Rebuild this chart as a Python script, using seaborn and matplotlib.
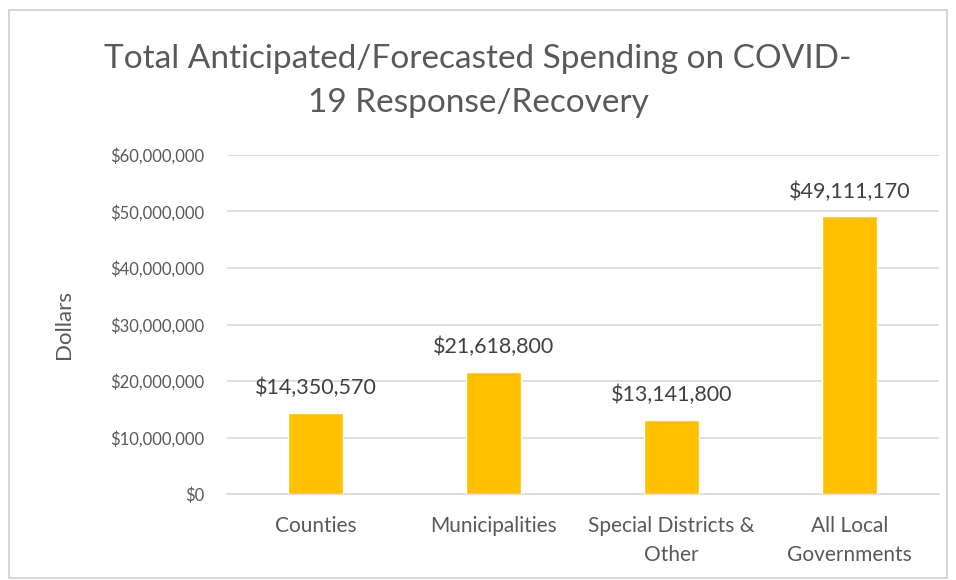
import numpy as np
import pandas as pd
import matplotlib
matplotlib.use("Agg")
import matplotlib.pyplot as plt
import seaborn as sns
from matplotlib.patches import Rectangle
from matplotlib.ticker import FuncFormatter, MultipleLocator

# Data
categories = ["Counties", "Municipalities", "Special Districts &\nOther", "All Local\nGovernments"]
spending = [14350570, 21618800, 13141800, 49111170]

data = pd.DataFrame({"category": categories, "spending": spending})

sns.set_theme(style="white")
plt.rcParams["font.family"] = ["Lato", "DejaVu Sans"]

text_color = "#595959"

fig = plt.figure(figsize=(9.56, 5.8), dpi=100)
ax = fig.add_axes([0.237, 0.148, 0.745, 0.585])

sns.barplot(data=data, x="category", y="spending", color="#FFC000",
            width=0.31, saturation=1, ax=ax, zorder=3)

ax.set_ylim(0, 60000000)
ax.yaxis.set_major_locator(MultipleLocator(10000000))
ax.yaxis.set_major_formatter(FuncFormatter(lambda v, p: f"${v:,.0f}"))
ax.grid(axis="y", color="#d9d9d9", linewidth=1.2, zorder=0)
ax.set_axisbelow(True)

for s in ax.spines.values():
    s.set_visible(False)
ax.spines["bottom"].set_visible(True)
ax.spines["bottom"].set_color("#d9d9d9")
ax.spines["bottom"].set_linewidth(1.2)

ax.tick_params(axis="both", length=0, colors=text_color)
ax.tick_params(axis="y", pad=16, labelsize=12)
ax.tick_params(axis="x", pad=16, labelsize=15)
for lbl in ax.get_xticklabels():
    lbl.set_linespacing(1.55)
ax.set_xlabel("")
ax.set_ylabel("Dollars", color=text_color, fontsize=16, labelpad=26)

for i, v in enumerate(spending):
    ax.text(i, v + 2600000, f"${v:,.0f}", ha="center", va="bottom",
            color="#404040", fontsize=15.5)

fig.text(0.5, 0.86, "Total Anticipated/Forecasted Spending on COVID-\n19 Response/Recovery",
         ha="center", va="center", color=text_color, fontsize=24, linespacing=1.6)

fig.patches.append(Rectangle((0.009, 0.004), 0.982, 0.978, transform=fig.transFigure,
                             fill=False, edgecolor="#d0d0d0", linewidth=1.2))

fig.savefig("out.png", dpi=100, facecolor="white")
